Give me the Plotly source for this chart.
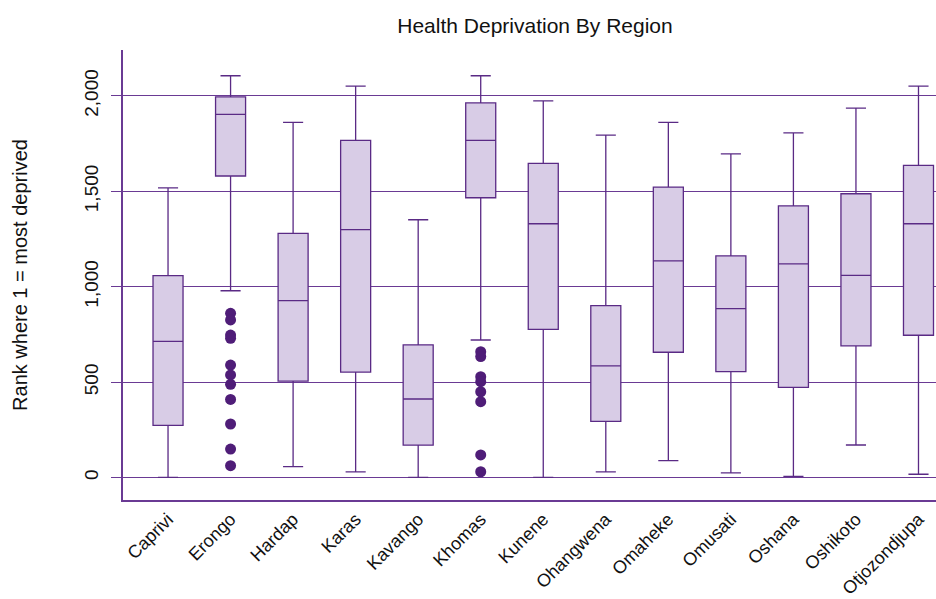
import plotly.graph_objects as go

regions = ["Caprivi", "Erongo", "Hardap", "Karas", "Kavango", "Khomas", "Kunene",
           "Ohangwena", "Omaheke", "Omusati", "Oshana", "Oshikoto", "Otjozondjupa"]
lower_fence = [1, 979, 58, 30, 1, 721, 2, 30, 89, 25, 7, 171, 18]
q1_vals = [274, 1580, 506, 553, 170, 1466, 777, 295, 657, 555, 473, 690, 746]
median_vals = [714, 1903, 927, 1299, 412, 1767, 1330, 586, 1136, 885, 1120, 1060, 1330]
q3_vals = [1058, 1995, 1280, 1767, 696, 1963, 1646, 901, 1522, 1162, 1424, 1487, 1636]
upper_fence = [1518, 2105, 1861, 2051, 1351, 2105, 1974, 1794, 1861, 1696, 1806, 1936, 2051]

outlier_regions = (["Erongo"] * 11) + (["Khomas"] * 8)
outlier_values = [861, 826, 747, 730, 590, 538, 489, 410, 281, 150, 63,
                  660, 634, 529, 503, 450, 398, 119, 31]

y_ticks = [0, 500, 1000, 1500, 2000]

line_col = "#5a2a85"
grid_col = "#6a3a94"
fill_col = "#d8cce6"
dot_col = "#4f1d78"
font_family = "Liberation Sans, Arial, sans-serif"

fig = go.Figure()
fig.add_trace(go.Box(
    x=regions,
    q1=q1_vals, median=median_vals, q3=q3_vals,
    lowerfence=lower_fence, upperfence=upper_fence,
    fillcolor=fill_col,
    line=dict(color=line_col, width=1.3),
    width=0.48,
    whiskerwidth=0.67,
    boxpoints=False,
    showlegend=False,
))
fig.add_trace(go.Scatter(
    x=outlier_regions, y=outlier_values, mode="markers",
    marker=dict(color=dot_col, size=11),
    showlegend=False,
))

fig.update_layout(
    width=936, height=599,
    margin=dict(l=123, r=0, t=50, b=99, autoexpand=False),
    paper_bgcolor="white", plot_bgcolor="white",
    font=dict(family=font_family, color="#111111"),
    title=dict(text="Health Deprivation By Region", x=535 / 936, xref="container",
               xanchor="center", y=1 - 26 / 599, yanchor="middle",
               font=dict(size=21, family=font_family, color="#111111")),
)
fig.update_xaxes(
    type="category", range=[-0.72, 12.28],
    showline=True, linecolor=grid_col, linewidth=1.5,
    showgrid=False, ticks="", tickangle=-45,
    tickfont=dict(size=18, family=font_family, color="#111111"),
)
fig.update_yaxes(
    range=[-117, 2240], tickvals=y_ticks, tickformat=",",
    showgrid=True, gridcolor=grid_col, gridwidth=1.2,
    zeroline=False,
    showline=True, linecolor=grid_col, linewidth=1.5,
    ticks="outside", ticklen=10, tickcolor=grid_col, tickwidth=1.2,
    tickangle=-90, ticklabelstandoff=6,
    tickfont=dict(size=19, family=font_family, color="#111111"),
    title=dict(text="Rank where 1 = most deprived", standoff=48,
               font=dict(size=20, family=font_family, color="#111111")),
)

fig.write_html(
    "out.html",
    config={"displayModeBar": False},
    post_script="document.body.style.margin='0';document.body.style.overflow='hidden';",
)
